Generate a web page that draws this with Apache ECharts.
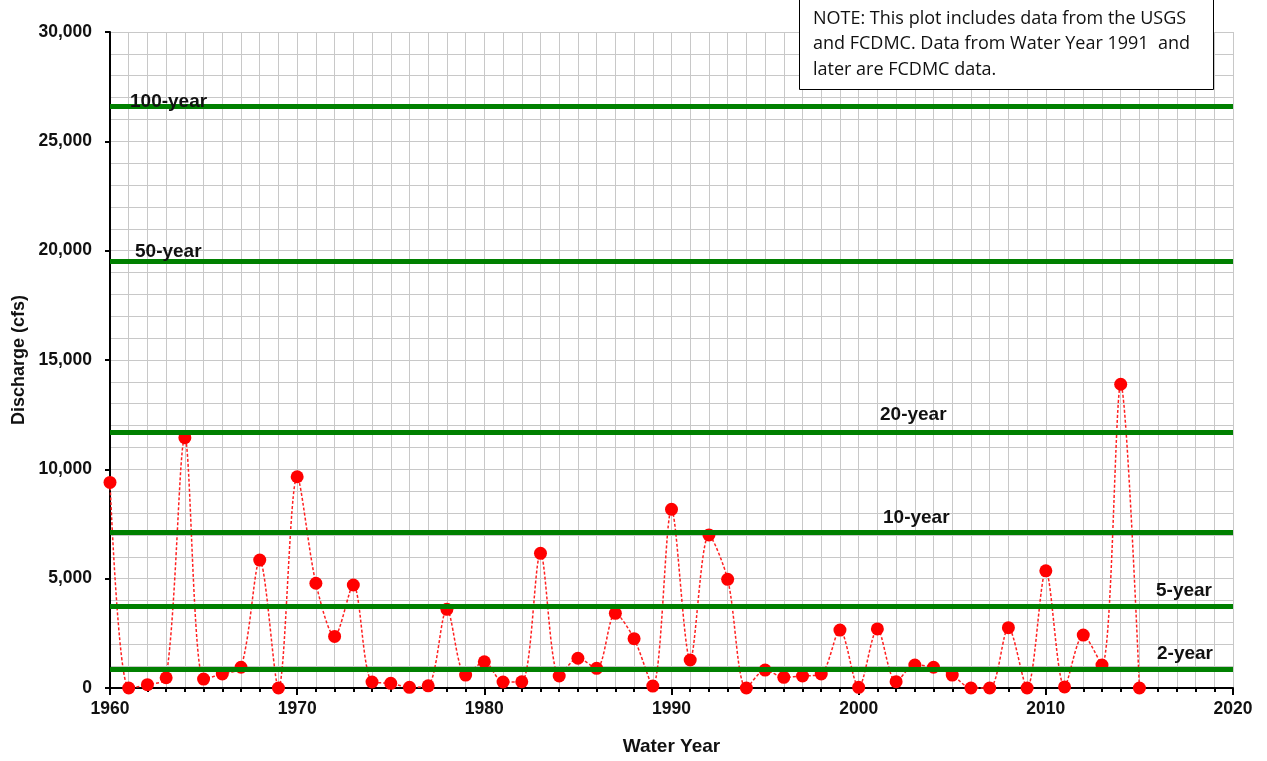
<!DOCTYPE html>
<html>
<head>
<meta charset="utf-8">
<script src="https://cdn.jsdelivr.net/npm/echarts@6/dist/echarts.min.js"></script>
<style>
  html, body { margin: 0; padding: 0; background: #fff; }
  #peakChart { width: 1267px; height: 761px; }
</style>
</head>
<body>
<div id="peakChart"></div>
<script>
// annual peak discharge (cfs)
const waterYears = [
    1960, 1961, 1962, 1963, 1964, 1965, 1966, 1967, 1968, 1969,
    1970, 1971, 1972, 1973, 1974, 1975, 1976, 1977, 1978, 1979,
    1980, 1981, 1982, 1983, 1984, 1985, 1986, 1987, 1988, 1989,
    1990, 1991, 1992, 1993, 1994, 1995, 1996, 1997, 1998, 1999,
    2000, 2001, 2002, 2003, 2004, 2005, 2006, 2007, 2008, 2009,
    2010, 2011, 2012, 2013, 2014, 2015
];
const peakDischarge = [
    9400, 0, 150, 470, 11450, 410, 640, 950, 5850, 0,
    9660, 4790, 2360, 4710, 275, 215, 30, 100, 3600, 590,
    1200, 275, 285, 6160, 550, 1360, 900, 3415, 2255, 90,
    8170, 1280, 7000, 4970, 0, 820, 490, 550, 640, 2650,
    30, 2700, 290, 1050, 950, 590, 0, 0, 2760, 0,
    5360, 50, 2420, 1050, 13890, 0
];

// flood frequency flows
const returnPeriods = ['100-year', '50-year', '20-year', '10-year', '5-year', '2-year'];
const returnFlows = [26600, 19500, 11680, 7100, 3750, 870];

const xTicks = [1960, 1970, 1980, 1990, 2000, 2010, 2020];
const yTicks = [0, 5000, 10000, 15000, 20000, 25000, 30000];

// where each return-period label sits along its line
const labelPlace = [
    { position: 'insideStartTop', distance: [20, -5] },
    { position: 'insideStartTop', distance: [25, 0] },
    { position: 'insideStartTop', distance: [770, 8] },
    { position: 'insideStartTop', distance: [773, 5] },
    { position: 'insideEndTop', distance: [21, 6] },
    { position: 'insideEndTop', distance: [20, 6] }
];

const boldFont = {
    fontFamily: '"Liberation Sans", Arial, sans-serif',
    fontWeight: 'bold',
    fontSize: 17.5,
    color: '#111'
};

const chartDom = document.getElementById('peakChart');
const myChart = echarts.init(chartDom);

const option = {
    animation: false,
    grid: {
        left: 110,
        right: 34,
        top: 32,
        bottom: 68
    },
    xAxis: {
        type: 'value',
        min: xTicks[0],
        max: xTicks[xTicks.length - 1],
        interval: 10,
        name: 'Water Year',
        nameLocation: 'middle',
        nameGap: 49,
        nameTextStyle: { ...boldFont, fontSize: 19 },
        axisLine: { lineStyle: { color: '#000', width: 2 } },
        axisTick: { show: true, inside: false, length: 7, lineStyle: { color: '#000', width: 2 } },
        minorTick: { show: true, splitNumber: 10, length: 4, lineStyle: { color: '#000', width: 2 } },
        axisLabel: {
            ...boldFont,
            margin: 12,
            formatter: v => String(v)
        },
        splitLine: { show: true, lineStyle: { color: '#c8c8c8', width: 1 } },
        minorSplitLine: { show: true, lineStyle: { color: '#c8c8c8', width: 1 } }
    },
    yAxis: {
        type: 'value',
        min: yTicks[0],
        max: yTicks[yTicks.length - 1],
        interval: 5000,
        name: 'Discharge (cfs)',
        nameLocation: 'middle',
        nameRotate: 90,
        nameGap: 80,
        nameTextStyle: { ...boldFont, fontSize: 18 },
        axisLine: { show: true, lineStyle: { color: '#000', width: 2 } },
        axisTick: { show: true, inside: false, length: 5, lineStyle: { color: '#000', width: 2 } },
        axisLabel: {
            ...boldFont,
            margin: 18,
            formatter: v => v.toLocaleString('en-US')
        },
        splitLine: { show: true, lineStyle: { color: '#c8c8c8', width: 1 } },
        minorTick: { show: false, splitNumber: 5 },
        minorSplitLine: { show: true, lineStyle: { color: '#c8c8c8', width: 1 } }
    },
    graphic: [
        {
            type: 'rect',
            left: 799,
            top: -2,
            shape: { width: 414, height: 91 },
            style: { fill: '#fff', stroke: '#000', lineWidth: 1 },
            z: 100
        },
        {
            type: 'text',
            left: 813,
            top: 6,
            style: {
                text: 'NOTE: This plot includes data from the USGS\nand FCDMC. Data from Water Year 1991  and\nlater are FCDMC data.',
                font: '18px "Open Sans", sans-serif',
                lineHeight: 25.5,
                fill: '#111'
            },
            z: 101
        }
    ],
    series: [
        {
            name: 'Annual Peak',
            type: 'line',
            data: waterYears.map((y, i) => [y, peakDischarge[i]]),
            smooth: 0.3,
            clip: false,
            symbol: 'circle',
            symbolSize: 13,
            itemStyle: { color: '#ff0000' },
            lineStyle: { color: '#ff2020', width: 1.5, type: [3, 2] },
            z: 3,
            markLine: {
                silent: true,
                symbol: ['none', 'none'],
                z: 5,
                lineStyle: { color: '#008000', width: 5, type: 'solid' },
                label: { ...boldFont, fontSize: 19 },
                emphasis: { disabled: true },
                data: returnPeriods.map((name, i) => ({
                    name: name,
                    yAxis: returnFlows[i],
                    label: {
                        show: true,
                        formatter: name,
                        position: labelPlace[i].position,
                        distance: labelPlace[i].distance
                    }
                }))
            }
        }
    ]
};

myChart.setOption(option);
</script>
</body>
</html>
